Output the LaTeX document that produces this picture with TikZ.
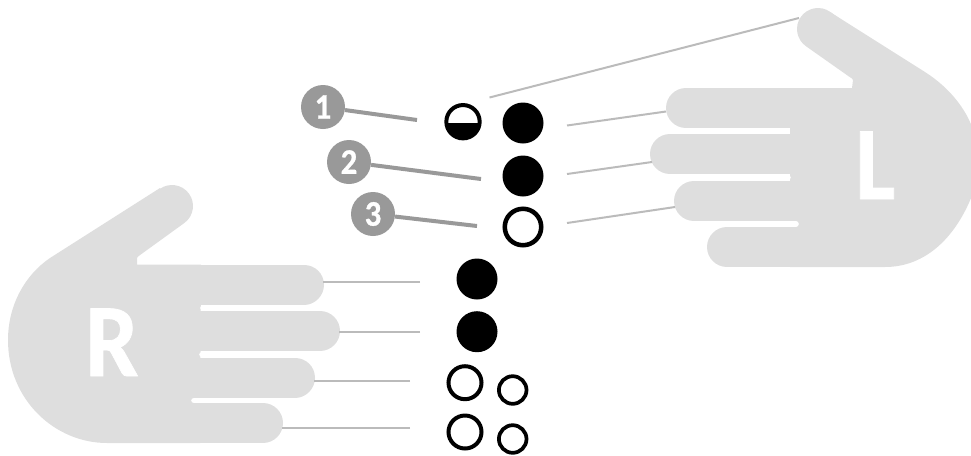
\documentclass[tikz,border=0pt]{standalone}
\usepackage{fontspec}
\setmainfont{Carlito}[BoldFeatures={FakeBold=0.7,FakeStretch=0.91}]
\definecolor{hand}{HTML}{DEDEDE}
\definecolor{linkc}{HTML}{BBBBBB}
\definecolor{badgec}{HTML}{999999}
\tikzset{
  palm/.style={fill=hand,draw=none},
  finger/.style={draw=hand,line width=30pt,line cap=round},
  thumbline/.style={draw=hand,line width=31.5pt,line cap=round},
  slot/.style={draw=white,line width=4.2pt,line cap=round},
  link/.style={draw=linkc,line width=1.5pt},
  pointer/.style={draw=badgec,line width=3pt},
  badge/.style={circle,fill=badgec,text=white,inner sep=0pt,minimum size=33pt,font=\bfseries\fontsize{27}{27}\selectfont},
  handletter/.style={text=white,inner sep=0pt,anchor=base west,font=\bfseries\fontsize{78}{78}\selectfont},
  dotfull/.style={circle,fill=black,inner sep=0pt,minimum size=30.75pt},
  ringbig/.style={circle,draw=black,fill=white,line width=3pt,inner sep=0pt,minimum size=24.75pt},
  ringlarge/.style={circle,draw=black,fill=white,line width=3.4pt,inner sep=0pt,minimum size=27.35pt},
  ringsmall/.style={circle,draw=black,fill=white,line width=2.8pt,inner sep=0pt,minimum size=20.7pt},
  ringhalf/.style={circle,draw=black,line width=3pt,inner sep=0pt,minimum size=25pt,
    path picture={\fill[black] ([yshift=-0.75pt]path picture bounding box.west) rectangle (path picture bounding box.south east);}}
}
\begin{document}
\begin{tikzpicture}[x=0.75pt,y=-0.75pt]
\useasboundingbox (0,0) rectangle (971,455);
% left-hand glyph (L)
\fill[palm] (790,88) -- (852,88) -- (853,80) -- (818,29) -- (830,12) -- (925,72)
  .. controls (950,88) and (970,112) .. (976,140) -- (976,185)
  .. controls (958,238) and (925,267) .. (885,267) -- (790,267) -- cycle;
\draw[thumbline] (818,29) -- (862,60);
\draw[finger] (686,108) -- (800,108);
\draw[finger] (670,154) -- (800,154);
\draw[finger] (694,201) -- (800,201);
\draw[finger] (727,247) -- (800,247);
\draw[slot] (740,131) -- (787,131);
\draw[slot] (740,177.5) -- (788,177.5);
\draw[slot] (760,224) -- (796,224);
\node[handletter] (letterL) at (855,199) {L};
% right-hand glyph (R)
\fill[palm] (201,264.5) -- (137,264.5) -- (137,258) -- (172,206) -- (160,188) -- (50,258)
  .. controls (25,275) and (8,305) .. (8,340)
  .. controls (8,400) and (55,443) .. (107,443) -- (200,443) -- cycle;
\draw[thumbline] (172,206) -- (125,240);
\draw[finger] (304,284.5) -- (190,284.5);
\draw[finger] (320,331) -- (190,331);
\draw[finger] (295,377.5) -- (190,377.5);
\draw[finger] (263,423) -- (190,423);
\draw[slot] (203,308) -- (260,308);
\draw[slot] (202,354.5) -- (260,354.5);
\draw[slot] (194,400.5) -- (240,400.5);
\node[handletter] (letterR) at (85,376) {R};
% named connector ends
\coordinate (lt0) at (489.5,97.5);  \coordinate (lh0) at (799,18);
\coordinate (lt1) at (567,125.5);   \coordinate (lh1) at (666,111.5);
\coordinate (lt2) at (567,174);     \coordinate (lh2) at (652,162);
\coordinate (lt3) at (567,223);     \coordinate (lh3) at (675,207);
\coordinate (rt1) at (420,281.5);   \coordinate (rh1) at (323,281.5);
\coordinate (rt2) at (420,331.5);   \coordinate (rh2) at (339,331.5);
\coordinate (rt3) at (410,381);     \coordinate (rh3) at (314,381);
\coordinate (rt4) at (410,428);     \coordinate (rh4) at (282,428);
\draw[link] (lt0) -- (lh0);
\draw[link] (lt1) -- (lh1);
\draw[link] (lt2) -- (lh2);
\draw[link] (lt3) -- (lh3);
\draw[link] (rt1) -- (rh1);
\draw[link] (rt2) -- (rh2);
\draw[link] (rt3) -- (rh3);
\draw[link] (rt4) -- (rh4);
% tablature dots
\node[ringhalf] (halfdot) at (463,121.7) {};
\node[dotfull] (d1) at (523,123) {};
\node[dotfull] (d2) at (523,176) {};
\node[ringlarge] (d3) at (523,227) {};
\node[dotfull] (d4) at (477,279) {};
\node[dotfull] (d5) at (477,331.7) {};
\node[ringbig] (d6) at (465,382.7) {};
\node[ringbig] (d7) at (465,432) {};
\node[ringsmall] (d8) at (512.7,390) {};
\node[ringsmall] (d9) at (512.7,439) {};
% numbered pointers
\node[badge] (b1) at (323,107) {1};
\node[badge] (b2) at (349,162) {2};
\node[badge] (b3) at (373,214) {3};
\coordinate (p1) at (417,120);
\coordinate (p2) at (481,179);
\coordinate (p3) at (477,226);
\draw[pointer] (b1) -- (p1);
\draw[pointer] (b2) -- (p2);
\draw[pointer] (b3) -- (p3);
\end{tikzpicture}
\end{document}
